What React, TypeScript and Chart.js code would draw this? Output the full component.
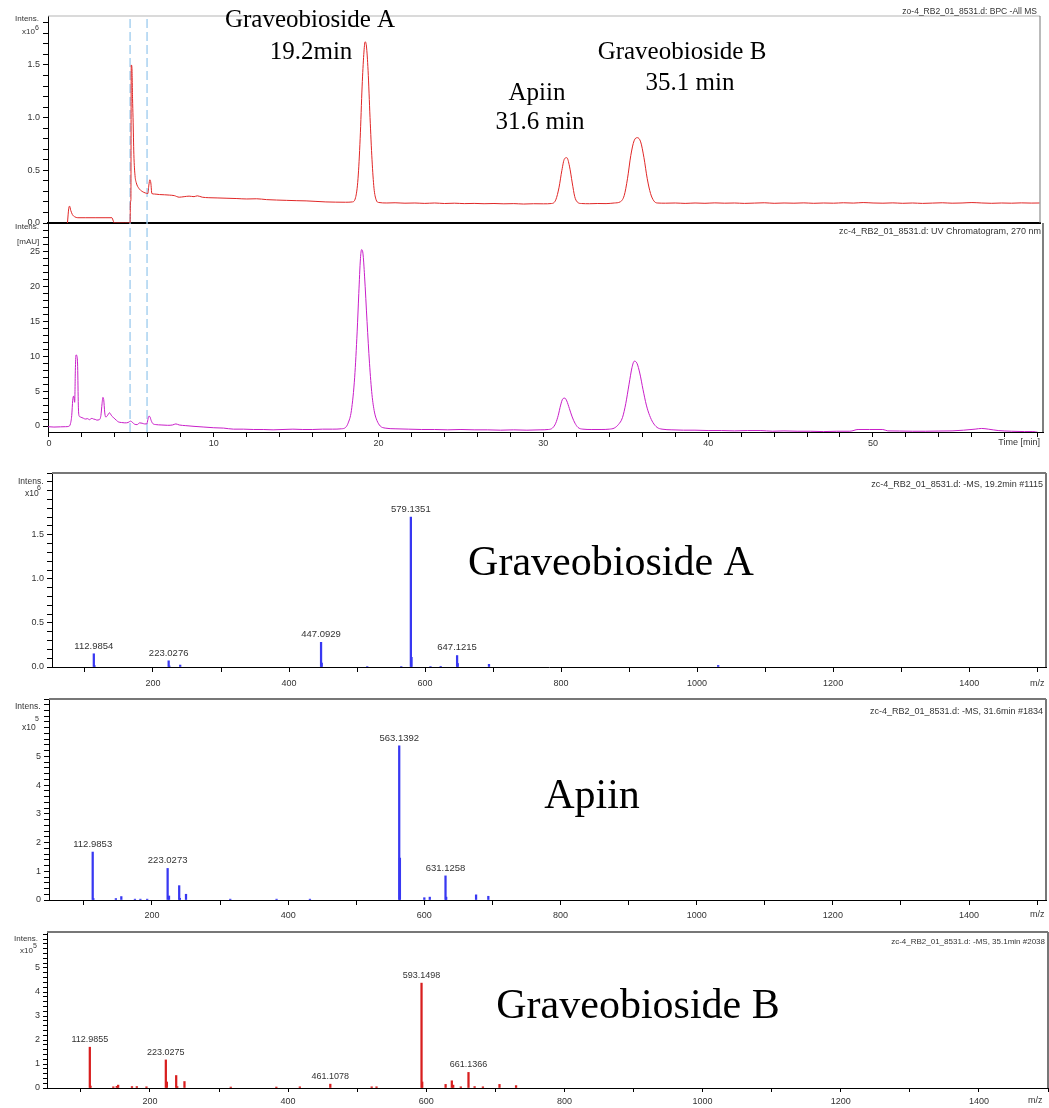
import React, { useEffect, useRef } from 'react';
import { Chart, registerables } from 'chart.js';
Chart.register(...registerables);

// ---------------- DATA ----------------
// Base peak chromatogram (BPC, All MS), time [min] vs intensity x10^6
const bpcPoints: [number, number][] = [
  [1.12, 0], [1.2, 0.14], [1.25, 0.16], [1.32, 0.12], [1.42, 0.08], [1.55, 0.06], [1.75, 0.05], [2.2, 0.05],
  [2.8, 0.05], [3.4, 0.05], [3.82, 0.05], [3.9, 0.02], [3.96, 0.0], [4.6, 0], [4.92, 0.0], [4.94, 0.2],
  [4.97, 0.22], [4.99, 1.5], [5.03, 1.48], [5.07, 1.18], [5.1, 1.0], [5.15, 0.65], [5.22, 0.45], [5.3, 0.38],
  [5.45, 0.33], [5.65, 0.3], [5.85, 0.285], [6.0, 0.28], [6.06, 0.36], [6.12, 0.41], [6.18, 0.38], [6.24, 0.28],
  [6.4, 0.275], [6.7, 0.27], [7.0, 0.268], [7.3, 0.265], [7.6, 0.26], [7.9, 0.245], [8.2, 0.25], [8.5, 0.255],
  [8.8, 0.25], [9.0, 0.258], [9.3, 0.245], [9.7, 0.24], [10.2, 0.238], [10.8, 0.235], [11.4, 0.232], [12.0, 0.228],
  [12.6, 0.23], [13.2, 0.222], [13.8, 0.218], [14.4, 0.215], [15.0, 0.212], [15.6, 0.21], [16.2, 0.205], [16.8, 0.2],
  [17.4, 0.198], [18.0, 0.197], [18.4, 0.2], [18.6, 0.24], [18.75, 0.42], [18.88, 0.8], [19.0, 1.3], [19.1, 1.6],
  [19.18, 1.72], [19.26, 1.68], [19.36, 1.45], [19.48, 1.0], [19.6, 0.6], [19.72, 0.33], [19.85, 0.22], [20.0, 0.195],
  [20.5, 0.19], [21.0, 0.192], [21.6, 0.188], [22.2, 0.19], [22.8, 0.186], [23.4, 0.19], [24.0, 0.185], [24.6, 0.188],
  [25.2, 0.184], [25.8, 0.186], [26.4, 0.183], [27.0, 0.185], [27.6, 0.182], [28.2, 0.184], [28.8, 0.18], [29.4, 0.183],
  [30.0, 0.182], [30.5, 0.185], [30.75, 0.22], [30.95, 0.34], [31.12, 0.5], [31.28, 0.61], [31.42, 0.62], [31.58, 0.54],
  [31.75, 0.38], [31.9, 0.25], [32.05, 0.2], [32.3, 0.185], [32.8, 0.183], [33.3, 0.185], [33.8, 0.184], [34.3, 0.19],
  [34.65, 0.2], [34.9, 0.26], [35.1, 0.42], [35.3, 0.64], [35.5, 0.78], [35.7, 0.81], [35.9, 0.77], [36.1, 0.62],
  [36.3, 0.42], [36.5, 0.28], [36.7, 0.21], [36.9, 0.19], [37.4, 0.188], [38.0, 0.19], [38.6, 0.186], [39.2, 0.19],
  [39.8, 0.187], [40.4, 0.191], [41.0, 0.188], [41.6, 0.19], [42.2, 0.186], [42.8, 0.189], [43.4, 0.192], [44.0, 0.187],
  [44.6, 0.19], [45.2, 0.188], [45.8, 0.191], [46.4, 0.187], [47.0, 0.19], [47.6, 0.188], [48.2, 0.192], [48.8, 0.189],
  [49.4, 0.194], [50.0, 0.19], [50.6, 0.188], [51.2, 0.191], [51.8, 0.187], [52.4, 0.19], [53.0, 0.186], [53.6, 0.189],
  [54.2, 0.192], [54.8, 0.188], [55.4, 0.19], [56.0, 0.194], [56.6, 0.19], [57.2, 0.187], [57.8, 0.19], [58.4, 0.188],
  [59.0, 0.191], [59.6, 0.189], [60.1, 0.19],
];

// UV chromatogram 270 nm, time [min] vs mAU
const uvPoints: [number, number][] = [
  [-0.06, -0.1], [0.3, -0.15], [0.7, -0.12], [1.0, -0.1], [1.2, -0.05], [1.3, 0.3], [1.38, 1.5], [1.44, 3.7],
  [1.5, 4.3], [1.56, 3.4], [1.6, 8.0], [1.64, 10.2], [1.7, 10.0], [1.74, 8.5], [1.78, 3.0], [1.82, 1.5],
  [1.9, 1.3], [2.0, 1.2], [2.1, 1.1], [2.2, 1.0], [2.35, 1.05], [2.45, 0.9], [2.6, 1.1], [2.7, 1.0],
  [2.8, 0.95], [2.9, 0.85], [3.05, 0.9], [3.15, 1.5], [3.22, 3.2], [3.27, 4.1], [3.32, 3.8], [3.38, 2.0],
  [3.44, 1.3], [3.52, 1.4], [3.6, 1.7], [3.67, 1.9], [3.74, 1.7], [3.82, 1.4], [3.9, 1.25], [4.0, 1.0],
  [4.1, 0.8], [4.2, 0.6], [4.4, 0.5], [4.6, 0.45], [4.8, 0.5], [4.95, 0.7], [5.05, 0.55], [5.2, 0.25],
  [5.35, 0.2], [5.5, 0.45], [5.65, 0.4], [5.8, 0.3], [5.93, 0.3], [6.0, 0.9], [6.06, 1.4], [6.12, 1.35],
  [6.2, 0.8], [6.3, 0.35], [6.5, 0.2], [6.8, 0.15], [7.2, 0.1], [7.5, 0.15], [7.7, 0.3], [7.9, 0.15],
  [8.3, 0.05], [8.8, -0.05], [9.4, -0.15], [10.0, -0.25], [10.6, -0.3], [11.2, -0.45], [11.8, -0.45], [12.4, -0.5],
  [13.0, -0.5], [13.6, -0.55], [14.2, -0.5], [14.8, -0.45], [15.4, -0.5], [16.0, -0.5], [16.6, -0.45], [17.2, -0.45],
  [17.75, -0.4], [18.0, -0.2], [18.15, 0.4], [18.35, 2.2], [18.55, 7.0], [18.7, 13.5], [18.8, 19], [18.9, 24],
  [18.97, 25.3], [19.05, 24.8], [19.15, 21.5], [19.3, 15], [19.45, 9], [19.6, 4.5], [19.75, 2.0], [19.9, 0.8],
  [20.1, 0.0], [20.4, -0.3], [21.0, -0.4], [21.8, -0.45], [22.6, -0.5], [23.4, -0.5], [24.2, -0.55], [25.0, -0.5],
  [25.8, -0.55], [26.6, -0.55], [27.4, -0.6], [28.2, -0.55], [29.0, -0.6], [29.8, -0.55], [30.3, -0.5], [30.55, -0.3],
  [30.75, 0.4], [30.9, 1.5], [31.05, 3.0], [31.18, 3.9], [31.3, 4.0], [31.42, 3.6], [31.58, 2.5], [31.75, 1.3],
  [31.92, 0.4], [32.1, -0.2], [32.4, -0.45], [32.9, -0.5], [33.5, -0.5], [34.0, -0.45], [34.3, -0.3], [34.55, 0.2],
  [34.8, 1.2], [35.0, 3.2], [35.2, 6.0], [35.38, 8.4], [35.52, 9.3], [35.68, 9.0], [35.85, 7.6], [36.05, 5.2],
  [36.25, 3.0], [36.45, 1.5], [36.65, 0.5], [36.9, -0.2], [37.2, -0.45], [37.8, -0.55], [38.5, -0.6], [39.2, -0.6],
  [40.0, -0.65], [40.8, -0.65], [41.6, -0.7], [42.4, -0.65], [43.2, -0.65], [43.9, -0.75], [44.6, -0.7], [45.4, -0.75],
  [46.2, -0.75], [47.0, -0.8], [47.8, -0.75], [48.6, -0.75], [49.1, -0.5], [49.8, -0.5], [50.6, -0.5], [50.9, -0.7],
  [51.6, -0.72], [52.4, -0.75], [53.2, -0.75], [54.0, -0.72], [54.8, -0.7], [55.5, -0.6], [56.2, -0.45], [56.6, -0.35],
  [57.0, -0.45], [57.6, -0.65], [58.4, -0.75], [59.2, -0.8], [59.7, -0.8], [60.0, -0.9],
];

// time window markers (dashed lines)
const markerTimes = [4.92, 5.95];

// MS spectrum at 19.2 min (Graveobioside A), intensity x10^6
const msA_mz = [112.9854, 114.0, 223.0276, 224.03, 240.0, 447.0929, 448.1, 515.0, 565.0, 579.1351, 580.14, 608.0, 623.0, 647.1215, 648.12, 694.0, 1031.0];
const msA_int = [0.15, 0.015, 0.07, 0.012, 0.022, 0.28, 0.045, 0.006, 0.006, 1.70, 0.11, 0.006, 0.008, 0.13, 0.04, 0.03, 0.018];
const msA_labels = [112.9854, 223.0276, 447.0929, 579.1351, 647.1215];

// MS spectrum at 31.6 min (Apiin), intensity x10^5
const msB_mz = [112.9853, 114.0, 147.0, 155.0, 175.0, 183.0, 193.0, 223.0273, 225.03, 240.0, 241.0, 250.0, 315.0, 383.0, 432.0, 563.1392, 564.14, 600.0, 608.0, 631.1258, 632.13, 676.0, 694.0];
const msB_int = [1.67, 0.05, 0.05, 0.12, 0.03, 0.03, 0.03, 1.1, 0.14, 0.5, 0.06, 0.2, 0.03, 0.03, 0.03, 5.37, 1.46, 0.08, 0.1, 0.84, 0.1, 0.18, 0.13];
const msB_labels = [112.9853, 223.0273, 563.1392, 631.1258];

// MS spectrum at 35.1 min (Graveobioside B), intensity x10^5
const msC_mz = [112.9855, 114.0, 147.0, 152.0, 154.0, 174.0, 181.0, 195.0, 223.0275, 224.5, 238.0, 239.5, 250.0, 317.0, 383.0, 417.0, 461.1078, 521.0, 528.0, 593.1498, 594.15, 628.0, 637.0, 639.0, 650.0, 661.1366, 670.0, 682.0, 706.0, 730.0];
const msC_int = [1.7, 0.08, 0.05, 0.07, 0.12, 0.06, 0.06, 0.05, 1.17, 0.25, 0.52, 0.06, 0.27, 0.04, 0.04, 0.05, 0.16, 0.05, 0.05, 4.37, 0.25, 0.15, 0.3, 0.12, 0.05, 0.65, 0.06, 0.05, 0.15, 0.1];
const msC_labels = [112.9855, 223.0275, 461.1078, 593.1498, 661.1366];

// ---------------- STYLE / LAYOUT ----------------
const SANS = '"Liberation Sans", Arial, sans-serif';
const SERIF = '"Liberation Serif", "Times New Roman", serif';
const W = 1049;

type Txt = { t: string; x: number; y: number; size: number; serif?: boolean; align?: CanvasTextAlign; base?: CanvasTextBaseline; color?: string };

interface Panel {
  top: number; height: number;
  area: { left: number; top: number; right: number; bottom: number };
  type: 'line' | 'bar';
  x: { min: number; max: number; step: number; major: number; lmin: number; lmax: number; dec: number; tick: number; pad: number; labels: boolean; border: number };
  y: { min: number; max: number; step: number; major: number; lmax: number; dec: number; tick: number; pad: number };
  frame: { top: boolean; topColor: string; color: string; width: number };
  texts: Txt[];
  datasets: any[];
  peaks?: { mz: number[]; int: number[]; labels: number[]; size: number; color: string };
}

const isMajor = (v: number, m: number) => Math.abs(v / m - Math.round(v / m)) < 1e-6;

function lineSet(points: [number, number][], color: string) {
  return {
    data: points.map(([x, y]) => ({ x, y })),
    borderColor: color, borderWidth: 1, pointRadius: 0, fill: false,
    cubicInterpolationMode: 'monotone',
  };
}
function markerSets(y0: number, y1: number) {
  return markerTimes.map((t) => ({
    data: [{ x: t, y: y0 }, { x: t, y: y1 }],
    borderColor: '#9ccbee', borderWidth: 1.3, borderDash: [9, 4], pointRadius: 0, fill: false,
  }));
}
function barSet(mz: number[], int: number[], color: string) {
  return {
    data: mz.map((m, i) => ({ x: m, y: int[i] })),
    backgroundColor: color, borderWidth: 0, barThickness: 1.6,
  };
}

const BLUE = '#3838f2';
const RED_MS = '#d81e1e';

const panels: Panel[] = [
  {
    top: 0, height: 232, area: { left: 48, top: 16, right: 1040, bottom: 223 }, type: 'line',
    x: { min: -0.06, max: 60.13, step: 2, major: 10, lmin: 0, lmax: 50, dec: 0, tick: 0, pad: 0, labels: false, border: 2 },
    y: { min: 0, max: 1.965, step: 0.1, major: 0.5, lmax: 1.5, dec: 1, tick: 5, pad: 3 },
    frame: { top: true, topColor: '#b5b5b5', color: '#777', width: 1 },
    texts: [
      { t: 'zo-4_RB2_01_8531.d: BPC -All MS', x: 1037, y: 12, size: 8.5, align: 'right' },
      { t: 'Intens.', x: 15, y: 19, size: 8 },
      { t: 'x10', x: 22, y: 32, size: 8 },
      { t: '6', x: 35, y: 28, size: 7 },
      { t: 'Graveobioside A', x: 310, y: 20, size: 25, serif: true, align: 'center', color: '#000' },
      { t: '19.2min', x: 311, y: 52, size: 25, serif: true, align: 'center', color: '#000' },
      { t: 'Apiin', x: 537, y: 93, size: 25, serif: true, align: 'center', color: '#000' },
      { t: '31.6 min', x: 540, y: 122, size: 25, serif: true, align: 'center', color: '#000' },
      { t: 'Graveobioside B', x: 682, y: 52, size: 25, serif: true, align: 'center', color: '#000' },
      { t: '35.1 min', x: 690, y: 83, size: 25, serif: true, align: 'center', color: '#000' },
    ],
    datasets: [lineSet(bpcPoints, '#e02626'), ...markerSets(0, 1.965)],
  },
  {
    top: 214, height: 236, area: { left: 48, top: 223, right: 1043, bottom: 432 }, type: 'line',
    x: { min: -0.06, max: 60.32, step: 2, major: 10, lmin: 0, lmax: 50, dec: 0, tick: 5, pad: 1, labels: true, border: 1 },
    y: { min: -0.86, max: 29.12, step: 1, major: 5, lmax: 25, dec: 0, tick: 5, pad: 3 },
    frame: { top: false, topColor: '#000', color: '#555', width: 1.5 },
    texts: [
      { t: 'zc-4_RB2_01_8531.d: UV Chromatogram, 270 nm', x: 1041, y: 232, size: 9, align: 'right' },
      { t: 'Intens.', x: 15, y: 227, size: 8 },
      { t: '[mAU]', x: 17, y: 242, size: 8 },
      { t: 'Time [min]', x: 1040, y: 443, size: 9, align: 'right' },
    ],
    datasets: [lineSet(uvPoints, '#c81ec8'), ...markerSets(-0.86, 29.12)],
  },
  {
    top: 462, height: 230, area: { left: 52, top: 473, right: 1046, bottom: 667 }, type: 'bar',
    x: { min: 51.5, max: 1513, step: 100, major: 200, lmin: 200, lmax: 1400, dec: 0, tick: 5, pad: 6, labels: true, border: 1 },
    y: { min: 0, max: 2.2, step: 0.1, major: 0.5, lmax: 1.5, dec: 1, tick: 5, pad: 3 },
    frame: { top: true, topColor: '#777', color: '#777', width: 2 },
    texts: [
      { t: 'zc-4_RB2_01_8531.d: -MS, 19.2min #1115', x: 1043, y: 485, size: 9, align: 'right' },
      { t: 'Intens.', x: 18, y: 482, size: 8.5 },
      { t: 'x10', x: 25, y: 494, size: 8.5 },
      { t: '6', x: 37, y: 488, size: 7 },
      { t: 'm/z', x: 1030, y: 684, size: 9 },
      { t: 'Graveobioside A', x: 611, y: 575, size: 42, serif: true, align: 'center', base: 'alphabetic', color: '#000' },
    ],
    datasets: [barSet(msA_mz, msA_int, BLUE)],
    peaks: { mz: msA_mz, int: msA_int, labels: msA_labels, size: 9.5, color: '#333' },
  },
  {
    top: 690, height: 232, area: { left: 49, top: 699, right: 1046, bottom: 900 }, type: 'bar',
    x: { min: 48.8, max: 1513, step: 100, major: 200, lmin: 200, lmax: 1400, dec: 0, tick: 5, pad: 5, labels: true, border: 1 },
    y: { min: 0, max: 7.0, step: 0.2, major: 1, lmax: 5, dec: 0, tick: 5, pad: 3 },
    frame: { top: true, topColor: '#777', color: '#777', width: 2 },
    texts: [
      { t: 'zc-4_RB2_01_8531.d: -MS, 31.6min #1834', x: 1043, y: 712, size: 9, align: 'right' },
      { t: 'Intens.', x: 15, y: 707, size: 8.5 },
      { t: 'x10', x: 22, y: 728, size: 8.5 },
      { t: '5', x: 35, y: 719, size: 7 },
      { t: 'm/z', x: 1030, y: 915, size: 9 },
      { t: 'Apiin', x: 592, y: 808, size: 42, serif: true, align: 'center', base: 'alphabetic', color: '#000' },
    ],
    datasets: [barSet(msB_mz, msB_int, BLUE)],
    peaks: { mz: msB_mz, int: msB_int, labels: msB_labels, size: 9.5, color: '#333' },
  },
  {
    top: 922, height: 186, area: { left: 47, top: 932, right: 1048, bottom: 1088 }, type: 'bar',
    x: { min: 51, max: 1500, step: 100, major: 200, lmin: 200, lmax: 1400, dec: 0, tick: 4, pad: 4, labels: true, border: 1 },
    y: { min: 0, max: 6.5, step: 0.2, major: 1, lmax: 5, dec: 0, tick: 4, pad: 3 },
    frame: { top: true, topColor: '#777', color: '#777', width: 2 },
    texts: [
      { t: 'zc-4_RB2_01_8531.d: -MS, 35.1min #2038', x: 1045, y: 942, size: 8, align: 'right' },
      { t: 'Intens.', x: 14, y: 939, size: 8 },
      { t: 'x10', x: 20, y: 951, size: 8 },
      { t: '5', x: 33, y: 946, size: 7 },
      { t: 'm/z', x: 1028, y: 1101, size: 9 },
      { t: 'Graveobioside B', x: 638, y: 1018, size: 42, serif: true, align: 'center', base: 'alphabetic', color: '#000' },
    ],
    datasets: [barSet(msC_mz, msC_int, RED_MS)],
    peaks: { mz: msC_mz, int: msC_int, labels: msC_labels, size: 9, color: '#333' },
  },
];

function overlay(p: Panel) {
  return {
    id: 'overlay',
    afterDatasetsDraw(chart: any) {
      if (!p.peaks) return;
      const ctx = chart.ctx as CanvasRenderingContext2D;
      const xs = chart.scales.x, ys = chart.scales.y;
      ctx.save();
      ctx.font = `${p.peaks.size}px ${SANS}`;
      ctx.fillStyle = p.peaks.color;
      ctx.textAlign = 'center';
      ctx.textBaseline = 'bottom';
      for (const m of p.peaks.labels) {
        const i = p.peaks.mz.indexOf(m);
        const px = xs.getPixelForValue(m);
        const py = ys.getPixelForValue(p.peaks.int[i]);
        ctx.fillText(m.toFixed(4), px, py - 3);
      }
      ctx.restore();
    },
    afterDraw(chart: any) {
      const ctx = chart.ctx as CanvasRenderingContext2D;
      const a = chart.chartArea;
      ctx.save();
      const f = p.frame;
      if (f.top) {
        ctx.strokeStyle = f.topColor; ctx.lineWidth = f.width;
        ctx.beginPath(); ctx.moveTo(a.left, a.top); ctx.lineTo(a.right, a.top); ctx.stroke();
      }
      ctx.strokeStyle = f.color; ctx.lineWidth = f.width;
      ctx.beginPath(); ctx.moveTo(a.right, a.top); ctx.lineTo(a.right, a.bottom); ctx.stroke();
      for (const t of p.texts) {
        ctx.font = `${t.size}px ${t.serif ? SERIF : SANS}`;
        ctx.fillStyle = t.color || '#333';
        ctx.textAlign = t.align || 'left';
        ctx.textBaseline = t.base || 'middle';
        ctx.fillText(t.t, t.x, t.y - p.top);
      }
      ctx.restore();
    },
  };
}

function makeChart(canvas: HTMLCanvasElement, p: Panel) {
  const xH = p.top + p.height - p.area.bottom;
  const tickFont = { family: SANS, size: 9 };
  return new Chart(canvas, {
    type: p.type as any,
    data: { datasets: p.datasets },
    plugins: [overlay(p) as any],
    options: {
      responsive: false,
      animation: false,
      devicePixelRatio: 1,
      events: [],
      layout: { padding: { left: 0, top: p.area.top - p.top, right: W - p.area.right, bottom: 0 }, autoPadding: false } as any,
      plugins: { legend: { display: false }, tooltip: { enabled: false }, title: { display: false } },
      scales: {
        x: {
          type: 'linear', min: p.x.min, max: p.x.max, offset: false,
          afterFit: (s: any) => { s.height = xH; s.paddingLeft = 0; s.paddingRight = 0; },
          border: { display: true, color: '#000', width: p.x.border },
          grid: { display: p.x.tick > 0, offset: false, drawOnChartArea: false, drawTicks: true, tickLength: p.x.tick, color: '#000', lineWidth: 1 },
          ticks: {
            display: p.x.labels, stepSize: p.x.step, autoSkip: false, maxRotation: 0, minRotation: 0,
            maxTicksLimit: 1000, includeBounds: false, padding: p.x.pad, color: '#333', font: tickFont,
            callback: (v: any) => {
              const n = Number(v);
              return isMajor(n, p.x.major) && n >= p.x.lmin - 1e-9 && n <= p.x.lmax + 1e-9 ? n.toFixed(p.x.dec) : '';
            },
          },
        },
        y: {
          type: 'linear', min: p.y.min, max: p.y.max,
          afterFit: (s: any) => { s.width = p.area.left; s.paddingTop = 0; s.paddingBottom = 0; },
          border: { display: true, color: '#000', width: 1 },
          grid: { display: true, drawOnChartArea: false, drawTicks: true, tickLength: p.y.tick, color: '#000', lineWidth: 1 },
          ticks: {
            stepSize: p.y.step, autoSkip: false, maxTicksLimit: 1000, includeBounds: false,
            padding: p.y.pad, color: '#333', font: tickFont,
            callback: (v: any) => {
              const n = Number(v);
              return isMajor(n, p.y.major) && n >= -1e-9 && n <= p.y.lmax + 1e-9 ? n.toFixed(p.y.dec) : '';
            },
          },
        },
      },
    } as any,
  });
}

export default function App() {
  const refs = useRef<(HTMLCanvasElement | null)[]>([]);
  useEffect(() => {
    const charts = panels.map((p, i) => makeChart(refs.current[i] as HTMLCanvasElement, p));
    return () => charts.forEach((c) => c.destroy());
  }, []);
  return (
    <div style={{ position: 'absolute', left: 0, top: 0, width: W, height: 1108, background: '#fff', overflow: 'hidden' }}>
      {panels.map((p, i) => (
        <canvas
          key={i}
          ref={(el) => { refs.current[i] = el; }}
          width={W}
          height={p.height}
          style={{ position: 'absolute', left: 0, top: p.top, width: W, height: p.height }}
        />
      ))}
    </div>
  );
}
